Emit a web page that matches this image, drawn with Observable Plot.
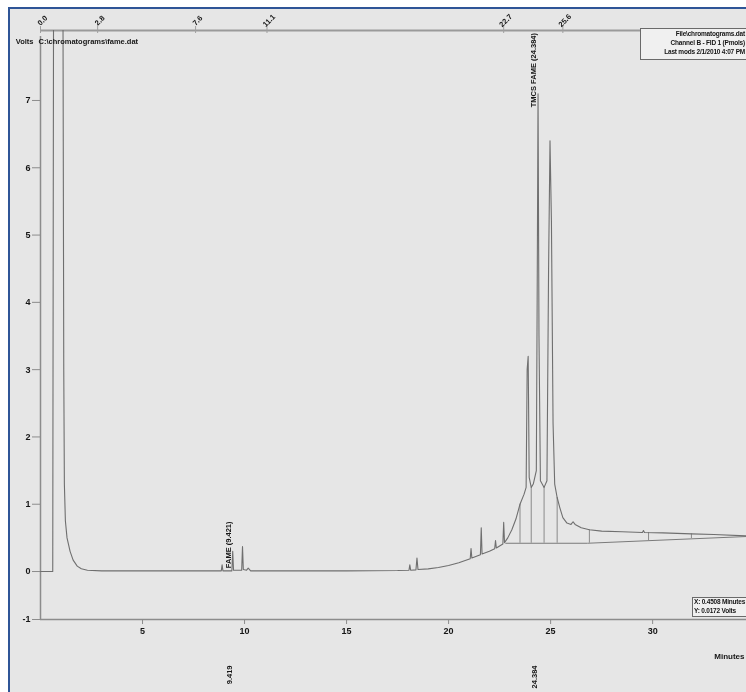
<!DOCTYPE html>
<html>
<head>
<meta charset="utf-8">
<script src="https://cdn.jsdelivr.net/npm/d3@7"></script>
<script src="https://cdn.jsdelivr.net/npm/@observablehq/plot@0.6"></script>
<style>
  html, body { margin: 0; padding: 0; background: #ffffff; }
  #wrap { position: relative; width: 746px; height: 692px; overflow: hidden; background: #ffffff; }
  #paper { position: absolute; left: 8px; top: 7px; width: 760px; height: 700px;
           border-left: 2px solid #2f5597; border-top: 2px solid #2f5597; background: #e6e6e6; }
  #chart { position: absolute; left: 0; top: 0; }
  #chart svg { filter: blur(0.35px); }
  .box { position: absolute; background: #f0f0f0; border: 1px solid #6a6a6a;
         font: bold 6.5px "Liberation Sans", Arial, sans-serif; color: #151515; line-height: 8.5px;
         letter-spacing: -0.2px; filter: blur(0.35px); white-space: nowrap; }
</style>
</head>
<body>
<div id="wrap">
  <div id="paper"></div>
  <div id="chart"></div>
  <div class="box" id="infoBox" style="left:640px; top:28px; width:120px; height:30px;"></div>
  <div class="box" id="cursorBox" style="left:692px; top:597px; width:60px; height:18px;"></div>
</div>
<script>
// ---- data ----
const times = [
  0, 0.6, 0.64, 1.1, 1.14, 1.17, 1.22, 1.3, 1.45, 1.6, 1.8, 2.0, 2.3, 3.0, 5.0, 8.0,
  8.86, 8.9, 8.94, 9.38, 9.42, 9.46, 9.86, 9.9, 9.94, 10.1, 10.18, 10.3, 12, 15, 17.5,
  18.06, 18.1, 18.14, 18.4, 18.45, 18.5,
  19, 19.5, 20, 20.5, 21.06, 21.1, 21.14, 21.56, 21.6, 21.64, 22.0, 22.26, 22.3, 22.34,
  22.66, 22.7, 22.74, 22.9, 23.1, 23.3, 23.5, 23.7, 23.8, 23.85, 23.9, 23.95, 24.05,
  24.15, 24.3, 24.34, 24.384, 24.43, 24.5, 24.68, 24.82, 24.9, 24.97, 25.04, 25.12, 25.2,
  25.32, 25.45, 25.6, 25.8, 26.0, 26.1, 26.2, 26.5, 26.9, 27.5, 28.5, 29.5, 29.55, 29.6,
  30.5, 31.9, 33, 34.6
];
const volts = [
  0, 0, 8.6, 8.6, 3.0, 1.3, 0.75, 0.5, 0.3, 0.17, 0.08, 0.04, 0.02, 0.01, 0.01, 0.01,
  0.01, 0.1, 0.01, 0.01, 0.3, 0.02, 0.02, 0.37, 0.03, 0.02, 0.05, 0.01, 0.01, 0.01, 0.015,
  0.02, 0.1, 0.02, 0.025, 0.2, 0.03,
  0.04, 0.06, 0.09, 0.13, 0.19, 0.34, 0.2, 0.25, 0.65, 0.26, 0.3, 0.34, 0.46, 0.35,
  0.41, 0.73, 0.43, 0.5, 0.62, 0.78, 1.0, 1.15, 1.25, 3.0, 3.2, 1.4, 1.25,
  1.3, 1.5, 4.0, 7.1, 3.5, 1.35, 1.25, 1.35, 4.5, 6.4, 5.2, 2.2, 1.3,
  1.1, 0.95, 0.8, 0.72, 0.7, 0.74, 0.7, 0.65, 0.62, 0.6, 0.59, 0.58, 0.61, 0.58,
  0.575, 0.56, 0.55, 0.53
];

// integration baseline and drop lines
const baseTimes = [22.8, 26.8, 34.6];
const baseVolts = [0.42, 0.42, 0.52];
const dropTimes = [23.5, 24.05, 24.68, 25.32, 26.9, 29.8, 31.9];
const dropTops = [1.0, 1.25, 1.25, 1.1, 0.62, 0.58, 0.56];
const dropBottoms = [0.42, 0.42, 0.42, 0.42, 0.42, 0.46, 0.49];

// peak labels
const peakNames = ["FAME (9.421)", "TMCS FAME (24.384)"];
const peakTimes = [9.421, 24.384];
const peakLabelVolts = [0.05, 6.9];
const rtLabels = ["9.419", "24.384"];
const rtTimes = [9.419, 24.384];

// event markers along the top
const eventLabels = ["0.0", "2.8", "7.6", "11.1", "22.7", "25.6"];
const eventTimes = [0, 2.8, 7.6, 11.1, 22.7, 25.6];

// axes
const xTicks = [5, 10, 15, 20, 25, 30];
const yTicks = [-1, 0, 1, 2, 3, 4, 5, 6, 7];
const xDomain = [0, 34.6];
const yTop = 8.04;
const yBottom = -1;
const negSqueeze = 0.713; // the printed chart squeezes the band below 0 volts

// header / info texts
const yAxisTitle = "Volts";
const fileName = "C:\\chromatograms\\fame.dat";
const xAxisTitle = "Minutes";
const infoLines = ["File\\chromatograms.dat", "Channel B - FID 1 (Pmols)", "Last mods 2/1/2010 4:07 PM"];
const cursorLines = ["X: 0.4508 Minutes", "Y: 0.0172 Volts"];

// ---- build tables ----
const trace = times.map((t, i) => ({t, v: volts[i]}));
const baseline = baseTimes.map((t, i) => ({t, v: baseVolts[i]}));
const drops = dropTimes.map((t, i) => ({t, top: dropTops[i], bottom: dropBottoms[i]}));
const peaks = peakNames.map((name, i) => ({name, t: peakTimes[i], v: peakLabelVolts[i]}));
const rts = rtLabels.map((name, i) => ({name, t: rtTimes[i]}));
const events = eventLabels.map((name, i) => ({name, t: eventTimes[i]}));

const ink = "#161616";
const lineGray = "#6f6f6f";
const axisGray = "#8c8c8c";

const chart = Plot.plot({
  width: 746,
  height: 692,
  marginLeft: 40,
  marginRight: 0,
  marginTop: 30,
  marginBottom: 73,
  style: {background: "transparent", fontFamily: "'Liberation Sans', Arial, sans-serif", fontSize: "9px", fontWeight: "bold", color: ink, overflow: "visible"},
  x: {domain: xDomain, range: [40, 746]},
  y: {transform: v => (v < 0 ? v * negSqueeze : v), domain: [yBottom * negSqueeze, yTop]},
  marks: [
    // frame lines
    Plot.ruleY([yTop], {stroke: "#9a9a9a", strokeWidth: 2}),
    Plot.ruleY([yBottom], {stroke: axisGray, strokeWidth: 1.5}),
    Plot.ruleX([xDomain[0]], {y1: yBottom, y2: yTop, stroke: axisGray, strokeWidth: 1.5, insetBottom: -6}),
    // event ticks on the top
    Plot.ruleX(events, {x: "t", y1: yTop, y2: yTop, insetTop: -4, insetBottom: -3, stroke: "#a0a0a0"}),
    Plot.axisY(yTicks, {tickSize: 8, tickPadding: 2, tickFormat: d => String(d), stroke: axisGray, fontWeight: "bold", fill: ink, label: null}),
    Plot.axisX(xTicks, {tickSize: 5, tickPadding: 3, tickFormat: d => String(d), stroke: axisGray, fontWeight: "bold", fill: ink, label: null}),
    // integration baseline and drop lines
    Plot.line(baseline, {x: "t", y: "v", stroke: "#7a7a7a", strokeWidth: 1}),
    Plot.ruleX(drops, {x: "t", y1: "bottom", y2: "top", stroke: "#8a8a8a", strokeWidth: 1}),
    // chromatogram trace
    Plot.line(trace, {x: "t", y: "v", stroke: lineGray, strokeWidth: 1.1, clip: true}),
    // peak labels
    Plot.text(peaks, {x: "t", y: "v", text: "name", rotate: -90, textAnchor: "start", lineAnchor: "middle", dx: -4, fontSize: 7.5, fontWeight: "bold", fill: ink}),
    Plot.text(rts, {x: "t", text: "name", frameAnchor: "bottom", rotate: -90, textAnchor: "end", lineAnchor: "middle", dy: 46, dx: -3, fontSize: 7.5, fontWeight: "bold", fill: ink}),
    Plot.text(events, {x: "t", text: "name", frameAnchor: "top", rotate: -45, textAnchor: "middle", dy: -12, fontSize: 7.5, fontWeight: "bold", fill: ink}),
    // axis titles
    Plot.text([yAxisTitle], {frameAnchor: "top-left", textAnchor: "end", dx: -7, dy: 8, fontSize: 7.5, fontWeight: "bold", fill: ink}),
    Plot.text([fileName], {frameAnchor: "top-left", textAnchor: "start", dx: -2, dy: 8, fontSize: 7.5, fontWeight: "bold", fill: ink}),
    Plot.text([xAxisTitle], {frameAnchor: "bottom-right", textAnchor: "end", dx: -2, dy: 39, fontSize: 8, fontWeight: "bold", fill: ink})
  ]
});
document.getElementById("chart").appendChild(chart);

const info = document.getElementById("infoBox");
info.innerHTML = `<div style="position:absolute; right:16px; top:1px">${infoLines[0]}</div>`
  + `<div style="position:absolute; right:16px; top:10px">${infoLines[1]}</div>`
  + `<div style="position:absolute; right:16px; top:19px">${infoLines[2]}</div>`;
const cur = document.getElementById("cursorBox");
cur.innerHTML = cursorLines.map(s => `<div style="padding-left:1px">${s}</div>`).join("");
</script>
</body>
</html>
